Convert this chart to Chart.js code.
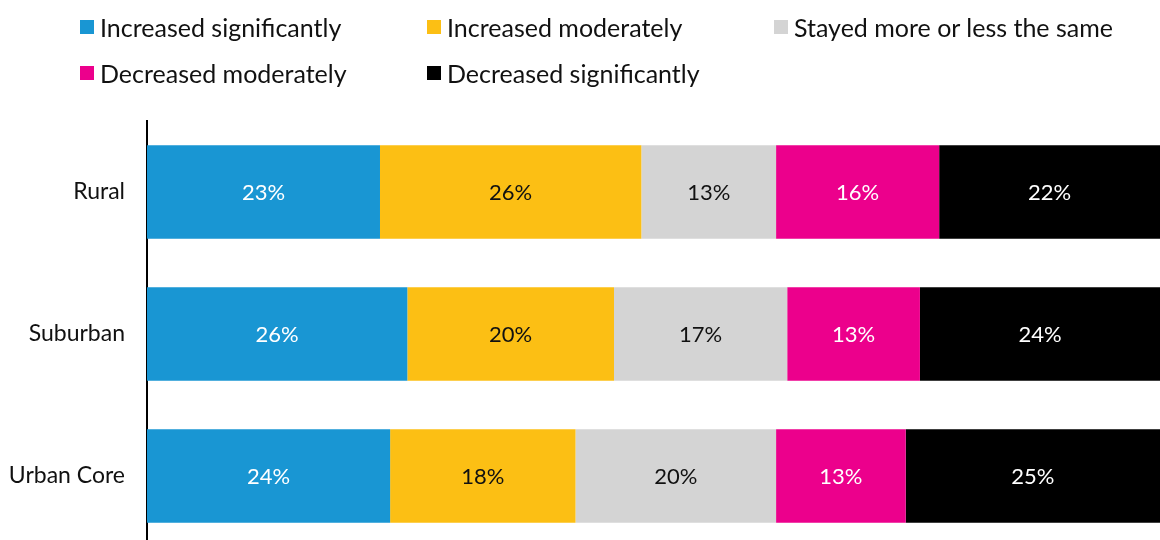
<!DOCTYPE html>
<html>
<head>
<meta charset="utf-8">
<script src="https://cdn.jsdelivr.net/npm/chart.js@4.4.1/dist/chart.umd.min.js"></script>
<style>
  html, body { margin: 0; padding: 0; background: #fff; overflow: hidden; }
  #wrap { position: relative; width: 1160px; height: 540px; }
  #legend { position: absolute; left: 0; top: 0; width: 1160px; font-family: Lato, sans-serif; font-size: 25px; color: #111; }
  .item { position: absolute; height: 28px; line-height: 28px; white-space: nowrap; }
  .box { position: absolute; left: 0; top: 7px; width: 14px; height: 14px; }
  .txt { position: absolute; left: 20px; top: 0; }
  #chart { position: absolute; left: 0; top: 0; }
</style>
</head>
<body>
<div id="wrap">
  <canvas id="chart" width="1160" height="560"></canvas>
  <div id="legend"></div>
</div>
<script>
// Kategorien und Werte (Anteile in %, aus dem Bild geschätzt)
const categories = ['Rural', 'Suburban', 'Urban Core'];
const seriesNames = ['Increased significantly', 'Increased moderately', 'Stayed more or less the same', 'Decreased moderately', 'Decreased significantly'];
const increasedSig = [23.0, 25.7, 24.0];
const increasedMod = [25.8, 20.4, 18.3];
const stayedSame = [13.3, 17.1, 19.8];
const decreasedMod = [16.1, 13.1, 12.8];
const decreasedSig = [21.8, 23.7, 25.1];

const colors = ['#1996d3', '#fcbf14', '#d4d4d4', '#ec008c', '#000000'];
const labelColors = ['#ffffff', '#111111', '#111111', '#ffffff', '#ffffff'];
const allValues = [increasedSig, increasedMod, stayedSame, decreasedMod, decreasedSig];

// HTML-Legende in Spalten
const legendEl = document.getElementById('legend');
const legendPos = [[80, 13], [427, 13], [774, 13], [80, 59], [427, 59]];
seriesNames.forEach(function(name, i) {
    const item = document.createElement('div');
    item.className = 'item';
    item.style.left = legendPos[i][0] + 'px';
    item.style.top = legendPos[i][1] + 'px';
    item.innerHTML = '<span class="box" style="background:' + colors[i] + '"></span><span class="txt">' + name + '</span>';
    legendEl.appendChild(item);
});

// Beschriftungen mittig in den Balken
const barLabels = {
    id: 'barLabels',
    afterDatasetsDraw(chart) {
        const ctx = chart.ctx;
        ctx.save();
        ctx.font = '22px Lato, sans-serif';
        ctx.textAlign = 'center';
        ctx.textBaseline = 'middle';
        chart.data.datasets.forEach(function(ds, di) {
            chart.getDatasetMeta(di).data.forEach(function(bar, i) {
                const x = (bar.x + bar.base) / 2;
                ctx.fillStyle = labelColors[di];
                ctx.fillText(Math.round(ds.data[i]) + '%', x, bar.y + 1);
            });
        });
        ctx.restore();
    }
};

const ctx = document.getElementById('chart').getContext('2d');
const chart = new Chart(ctx, {
    type: 'bar',
    data: {
        labels: categories,
        datasets: seriesNames.map(function(name, i) {
            return {
                label: name,
                data: allValues[i],
                backgroundColor: colors[i],
                borderWidth: 0,
                barPercentage: 0.66,
                categoryPercentage: 1
            };
        })
    },
    options: {
        indexAxis: 'y',
        responsive: false,
        animation: false,
        layout: { padding: { top: 121, bottom: 13, left: 0, right: 0 } },
        plugins: {
            legend: { display: false },
            tooltip: { enabled: false }
        },
        scales: {
            x: {
                stacked: true,
                display: false,
                min: 0,
                max: 100
            },
            y: {
                stacked: true,
                grid: { display: false, drawTicks: false },
                border: { display: true, color: '#000', width: 2 },
                ticks: {
                    padding: 22,
                    color: '#111',
                    font: { family: 'Lato', size: 23 }
                },
                afterFit: function(scale) {
                    scale.width = 147;
                    scale.paddingTop = 0;
                    scale.paddingBottom = 0;
                }
            }
        }
    },
    plugins: [barLabels]
});
</script>
</body>
</html>
